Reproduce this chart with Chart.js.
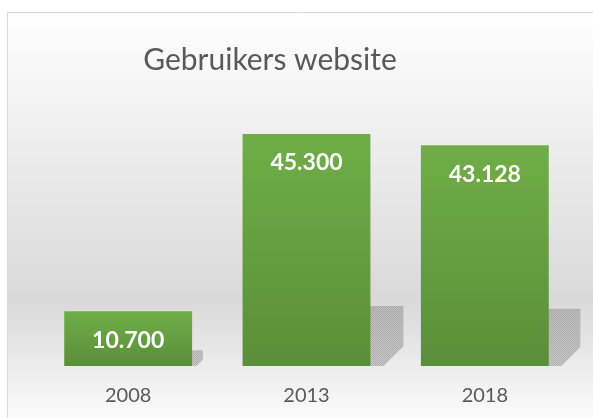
<!DOCTYPE html>
<html>
<head>
<meta charset="utf-8">
<script src="https://cdn.jsdelivr.net/npm/chart.js@4/dist/chart.umd.min.js"></script>
<style>
  html, body { margin: 0; padding: 0; background: #ffffff; overflow: hidden; }
  #wrap { width: 593px; height: 418px; }
</style>
</head>
<body>
<div id="wrap"><canvas id="usersChart" width="593" height="418"></canvas></div>
<script>
/* ---- data ---- */
const years = ["2008", "2013", "2018"];
const users = [10700, 45300, 43128];
const chartTitle = "Gebruikers website";

const textGrey = "#595959";

/* Dutch thousands separator: 45300 -> 45.300 */
function fmt(v) {
    return String(v).replace(/\B(?=(\d{3})+(?!\d))/g, ".");
}

/* ---- frame, background gradient and title ---- */
const framePlugin = {
    id: "frame",
    beforeDraw(chart) {
        const c = chart.ctx;
        c.save();
        c.fillStyle = "#ffffff";
        c.fillRect(0, 0, chart.width, chart.height);
        const g = c.createLinearGradient(0, 12, 0, 418);
        g.addColorStop(0, "#ffffff");
        g.addColorStop(0.71, "#d9d9d9");
        g.addColorStop(1, "#fbfbfb");
        c.fillStyle = g;
        c.fillRect(7, 12, chart.width - 7, chart.height - 12);
        c.strokeStyle = "#d9d9d9";
        c.lineWidth = 1;
        c.beginPath();
        c.moveTo(7.5, chart.height);
        c.lineTo(7.5, 12.5);
        c.lineTo(chart.width, 12.5);
        c.stroke();

        c.fillStyle = textGrey;
        c.font = "30px Lato";
        c.textAlign = "center";
        c.textBaseline = "alphabetic";
        c.fillText(chartTitle, 270, 70);
        c.restore();
    }
};

/* ---- dithered shadow behind each bar ---- */
function ditherPattern(ctx) {
    const p = document.createElement("canvas");
    p.width = 2;
    p.height = 2;
    const pc = p.getContext("2d");
    pc.fillStyle = "rgba(120,120,120,0.5)";
    pc.fillRect(0, 0, 1, 1);
    pc.fillRect(1, 1, 1, 1);
    pc.fillStyle = "rgba(120,120,120,0.3)";
    pc.fillRect(1, 0, 1, 1);
    pc.fillRect(0, 1, 1, 1);
    return ctx.createPattern(p, "repeat");
}

const shadowPlugin = {
    id: "barShadow",
    beforeDatasetsDraw(chart) {
        const c = chart.ctx;
        const meta = chart.getDatasetMeta(0);
        c.save();
        c.fillStyle = ditherPattern(c);
        meta.data.forEach(bar => {
            const right = bar.x + bar.width / 2;
            const h = bar.base - bar.y;
            const sh = h * 0.25 + 2;
            const d = sh * 0.5 + 3;
            const cut = d * 0.6;
            c.beginPath();
            c.moveTo(right - 2, bar.base - sh);
            c.lineTo(right + d, bar.base - sh);
            c.lineTo(right + d, bar.base - cut);
            c.lineTo(right + d - cut, bar.base);
            c.lineTo(right - 2, bar.base);
            c.closePath();
            c.fill();
        });
        c.restore();
    }
};

/* ---- value labels inside the bars ---- */
const labelPlugin = {
    id: "barLabels",
    afterDatasetsDraw(chart) {
        const c = chart.ctx;
        const meta = chart.getDatasetMeta(0);
        c.save();
        c.fillStyle = "#ffffff";
        c.font = "bold 23px Lato";
        c.textAlign = "center";
        c.textBaseline = "middle";
        meta.data.forEach((bar, i) => {
            c.fillText(fmt(users[i]), bar.x, bar.y + 29);
        });
        c.restore();
    }
};

function barGradient(ctx) {
    const chart = ctx.chart;
    if (!chart.chartArea) return "#66a042";
    const y = chart.scales.y;
    const top = y.getPixelForValue(users[ctx.dataIndex]);
    const bottom = y.getPixelForValue(0);
    const g = chart.ctx.createLinearGradient(0, top, 0, bottom);
    g.addColorStop(0, "#70ad47");
    g.addColorStop(1, "#5a8f39");
    return g;
}

new Chart(document.getElementById("usersChart"), {
    type: "bar",
    data: {
        labels: years,
        datasets: [{
            label: chartTitle,
            data: users,
            backgroundColor: barGradient,
            borderWidth: 0,
            categoryPercentage: 1,
            barPercentage: 0.717
        }]
    },
    options: {
        responsive: false,
        animation: false,
        layout: {
            padding: { top: 110, left: 39, right: 19, bottom: -8 }
        },
        plugins: {
            legend: { display: false },
            title: { display: false },
            tooltip: { enabled: false }
        },
        scales: {
            x: {
                grid: { display: false, drawTicks: false },
                border: { display: false },
                ticks: {
                    color: textGrey,
                    padding: 18,
                    font: { family: "Lato", size: 20 }
                }
            },
            y: {
                display: false,
                min: 0,
                max: 50000
            }
        }
    },
    plugins: [framePlugin, shadowPlugin, labelPlugin]
});
</script>
</body>
</html>
